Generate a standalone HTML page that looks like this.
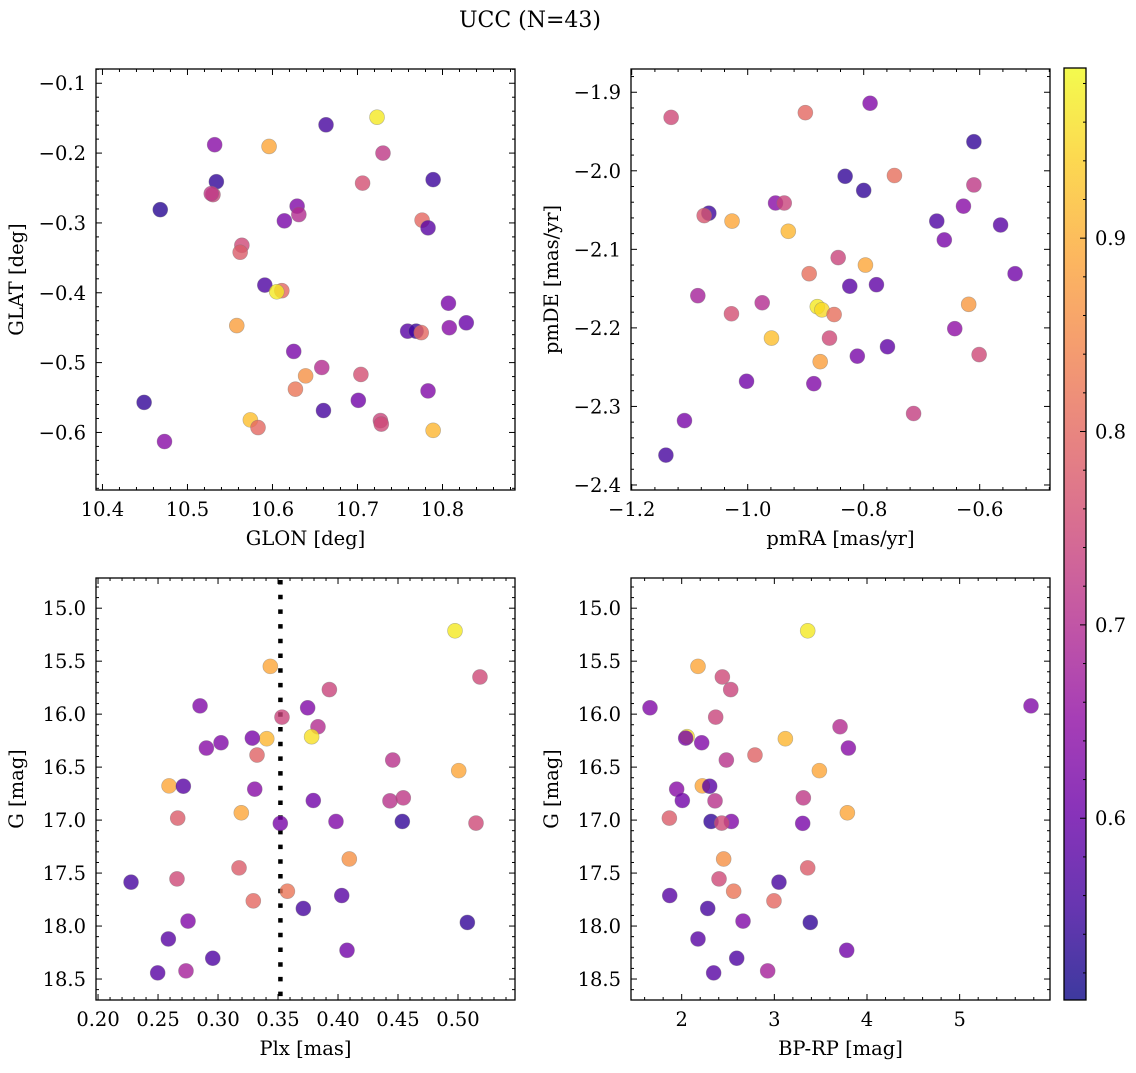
<!DOCTYPE html>
<html><head><meta charset="utf-8">
<style>
body{margin:0;background:#fff;}
svg text{font-family:"DejaVu Serif","Liberation Serif",serif;fill:#000;}
</style></head>
<body>
<svg id="fig" width="1136" height="1068" viewBox="0 0 1136 1068" xmlns="http://www.w3.org/2000/svg">
<text x="530" y="27" font-size="22" text-anchor="middle">UCC (N=43)</text>
</svg>
<script>
// ---- top panels data ----
const glon = [10.723,10.663,10.532,10.596,10.730,10.534,10.789,10.706,10.530,10.468,10.629,10.631,10.614,10.776,10.783,10.564,10.562,10.591,10.611,10.605,10.807,10.828,10.558,10.759,10.769,10.775,10.808,10.625,10.658,10.639,10.704,10.627,10.783,10.449,10.701,10.660,10.574,10.727,10.728,10.583,10.789,10.473,10.528];
const glat = [-0.1486,-0.1595,-0.188,-0.1905,-0.2,-0.241,-0.238,-0.243,-0.2595,-0.281,-0.276,-0.288,-0.297,-0.296,-0.307,-0.332,-0.342,-0.389,-0.397,-0.3986,-0.415,-0.443,-0.447,-0.455,-0.455,-0.457,-0.450,-0.484,-0.507,-0.519,-0.517,-0.538,-0.5405,-0.557,-0.554,-0.5686,-0.582,-0.583,-0.588,-0.593,-0.597,-0.613,-0.258];
const cTL = [0.97,0.56,0.64,0.89,0.72,0.54,0.55,0.76,0.74,0.53,0.63,0.70,0.62,0.80,0.58,0.75,0.78,0.57,0.80,0.97,0.62,0.60,0.88,0.58,0.55,0.80,0.64,0.62,0.70,0.86,0.76,0.82,0.63,0.54,0.61,0.56,0.92,0.74,0.75,0.80,0.91,0.64,0.72];
const pmra = [-0.789,-1.132,-0.9006,-0.610,-0.832,-0.747,-0.800,-0.610,-0.952,-0.937,-1.067,-1.075,-1.027,-0.628,-0.674,-0.930,-0.564,-0.661,-0.844,-0.797,-0.894,-0.539,-0.824,-0.778,-1.086,-0.975,-0.880,-0.872,-1.028,-0.851,-0.619,-0.959,-0.859,-0.643,-0.759,-0.601,-0.811,-0.875,-1.002,-0.886,-0.714,-1.109,-1.141];
const pmde = [-1.914,-1.932,-1.926,-1.963,-2.007,-2.006,-2.025,-2.018,-2.041,-2.041,-2.054,-2.057,-2.064,-2.045,-2.064,-2.077,-2.069,-2.088,-2.1105,-2.120,-2.131,-2.131,-2.147,-2.145,-2.159,-2.168,-2.173,-2.177,-2.182,-2.183,-2.170,-2.213,-2.213,-2.201,-2.224,-2.234,-2.236,-2.243,-2.268,-2.271,-2.309,-2.318,-2.362];
const cTR = [0.63,0.75,0.80,0.54,0.54,0.81,0.54,0.72,0.64,0.74,0.55,0.77,0.89,0.64,0.57,0.91,0.58,0.62,0.74,0.89,0.81,0.61,0.58,0.59,0.68,0.70,0.97,0.95,0.76,0.81,0.87,0.92,0.75,0.65,0.59,0.75,0.62,0.88,0.61,0.63,0.73,0.62,0.56];
// ---- bottom panels data (shared G & colour) ----
const gmag = [15.213,15.549,15.649,15.768,15.922,15.940,16.028,16.119,16.213,16.232,16.226,16.270,16.320,16.386,16.433,16.533,16.677,16.680,16.708,16.815,16.818,16.790,16.931,16.981,17.013,17.013,17.031,17.028,17.367,17.451,17.555,17.586,17.671,17.712,17.762,17.834,17.953,17.966,18.122,18.229,18.304,18.442,18.423];
const plx = [0.4975,0.3436,0.5183,0.3928,0.285,0.3747,0.3533,0.3833,0.378,0.3406,0.3286,0.3025,0.2903,0.3325,0.4456,0.5006,0.2592,0.2711,0.3306,0.3794,0.4433,0.4544,0.3194,0.2664,0.3983,0.4536,0.3519,0.515,0.4094,0.3175,0.2658,0.2275,0.3578,0.4031,0.3294,0.3711,0.275,0.5078,0.2586,0.4075,0.2956,0.2497,0.2733];
const bprp = [3.360,2.176,2.439,2.529,5.770,1.658,2.367,3.709,2.058,3.119,2.043,2.216,3.799,2.791,2.482,3.486,2.223,2.302,1.946,2.007,2.360,3.313,3.788,1.867,2.536,2.317,3.306,2.432,2.453,3.360,2.403,3.050,2.561,1.871,2.996,2.281,2.662,3.388,2.176,3.781,2.594,2.345,2.928];
const cBot = [0.97,0.89,0.75,0.74,0.63,0.63,0.74,0.70,0.96,0.91,0.62,0.63,0.64,0.79,0.71,0.89,0.89,0.58,0.64,0.61,0.71,0.72,0.89,0.78,0.63,0.54,0.62,0.75,0.86,0.78,0.75,0.56,0.82,0.58,0.80,0.56,0.63,0.54,0.58,0.61,0.57,0.58,0.68];
const plxCut = 0.352;
const cbTicks = [0.6,0.7,0.8,0.9];
const cmin = 0.506, cmax = 0.988;

const NS = "http://www.w3.org/2000/svg";
const svg = document.getElementById('fig');
const FS = 19.5;
function mk(tag, attrs, parent){const e=document.createElementNS(NS,tag);for(const k in attrs)e.setAttribute(k,attrs[k]);(parent||svg).appendChild(e);return e;}
const stops=[[13,8,135],[65,4,157],[106,0,168],[143,13,164],[177,42,144],[204,71,120],[225,100,98],[242,132,75],[252,166,54],[252,206,37],[240,249,33]];
function plasma(t){t=Math.max(0,Math.min(1,t));const f=t*10,i=Math.min(9,Math.floor(f)),r=f-i;const a=stops[i],b=stops[i+1];return 'rgb('+a.map((v,k)=>Math.round(v+(b[k]-v)*r)).join(',')+')';}
function col(c){return plasma((c-cmin)/(cmax-cmin));}
const fmtMinus=s=>s.replace('-','\u2212');

function panel(p){
  const sx=v=>p.x0+(v-p.xmin)/(p.xmax-p.xmin)*(p.x1-p.x0);
  const sy=v=>p.y0+(p.ytop-v)/(p.ytop-p.ybot)*(p.y1-p.y0);
  const g=mk('g',{});
  
  
  let start=Math.ceil(p.xmin/p.xminor-1e-6);
  for(let k=start;k*p.xminor<=p.xmax+1e-9;k++){
    const v=k*p.xminor;const X=sx(v);
    const major=Math.abs(v/p.xmajor-Math.round(v/p.xmajor))<1e-6;
    const L=major?6:3;
    mk('line',{x1:X,x2:X,y1:p.y1,y2:p.y1-L,stroke:'#000','stroke-width':1},g);
    mk('line',{x1:X,x2:X,y1:p.y0,y2:p.y0+L,stroke:'#000','stroke-width':1},g);
    if(major){const t=mk('text',{x:X,y:p.y1+26,'font-size':FS,'text-anchor':'middle'},g);t.textContent=fmtMinus(v.toFixed(p.xdec));}
  }
  const lo=Math.min(p.ytop,p.ybot),hi=Math.max(p.ytop,p.ybot);
  start=Math.ceil(lo/p.yminor-1e-6);
  for(let k=start;k*p.yminor<=hi+1e-9;k++){
    const v=k*p.yminor;const Y=sy(v);
    const major=Math.abs(v/p.ymajor-Math.round(v/p.ymajor))<1e-6;
    const L=major?6:3;
    mk('line',{x1:p.x0,x2:p.x0+L,y1:Y,y2:Y,stroke:'#000','stroke-width':1},g);
    mk('line',{x1:p.x1,x2:p.x1-L,y1:Y,y2:Y,stroke:'#000','stroke-width':1},g);
    if(major){const t=mk('text',{x:p.x0-10,y:Y+7,'font-size':FS,'text-anchor':'end'},g);t.textContent=fmtMinus(v.toFixed(p.ydec));}
  }
  if(p.vline!==undefined){
    const l=mk('line',{x1:sx(p.vline),x2:sx(p.vline),y1:p.y0+2,y2:p.y1,stroke:'#000','stroke-width':4.5,'stroke-dasharray':'4.5 10.2'},g);
    
  }
  for(let i=0;i<p.xs.length;i++){
    const c=mk('circle',{cx:sx(p.xs[i]),cy:sy(p.ys[i]),r:7.5,fill:col(p.cs[i]),'fill-opacity':0.8,stroke:'#777','stroke-opacity':0.5,'stroke-width':0.6},g);
    
    
  }
  mk('rect',{x:p.x0,y:p.y0,width:p.x1-p.x0,height:p.y1-p.y0,fill:'none',stroke:'#000','stroke-width':1.3},g);
  const xl=mk('text',{x:(p.x0+p.x1)/2,y:p.y1+55,'font-size':FS,'text-anchor':'middle'},g);xl.textContent=p.xlabel;
  
  const yx=p.x0-73,yc=(p.y0+p.y1)/2;
  const yl=mk('text',{x:yx,y:yc,'font-size':FS,'text-anchor':'middle',transform:`rotate(-90 ${yx} ${yc})`},g);yl.textContent=p.ylabel;
  
}
panel({name:'glon-glat-panel',x0:96,x1:515,y0:69,y1:490,xmin:10.3924,xmax:10.8853,ytop:-0.0796,ybot:-0.6824,xmajor:0.1,xminor:0.02,ymajor:0.1,yminor:0.02,xdec:1,ydec:1,xs:glon,ys:glat,cs:cTL,xlabel:'GLON [deg]',ylabel:'GLAT [deg]'});
panel({name:'pm-panel',x0:631,x1:1050,y0:69,y1:490,xmin:-1.2012,xmax:-0.4788,ytop:-1.8704,ybot:-2.4064,xmajor:0.2,xminor:0.04,ymajor:0.1,yminor:0.02,xdec:1,ydec:1,xs:pmra,ys:pmde,cs:cTR,xlabel:'pmRA [mas/yr]',ylabel:'pmDE [mas/yr]'});
panel({name:'plx-g-panel',x0:96,x1:515,y0:578,y1:1000,xmin:0.1983,xmax:0.5475,ytop:14.715,ybot:18.698,xmajor:0.05,xminor:0.01,ymajor:0.5,yminor:0.1,xdec:2,ydec:1,xs:plx,ys:gmag,cs:cBot,vline:plxCut,xlabel:'Plx [mas]',ylabel:'G [mag]'});
panel({name:'cmd-panel',x0:631,x1:1050,y0:578,y1:1000,xmin:1.453,xmax:5.975,ytop:14.715,ybot:18.698,xmajor:1,xminor:0.2,ymajor:0.5,yminor:0.1,xdec:0,ydec:1,xs:bprp,ys:gmag,cs:cBot,xlabel:'BP-RP [mag]',ylabel:'G [mag]'});

// colorbar
const cb={x0:1064,x1:1086,y0:68,y1:1000};
const defs=mk('defs',{});
const lg=mk('linearGradient',{id:'cbg',x1:0,y1:1,x2:0,y2:0},defs);
for(let k=0;k<=20;k++)mk('stop',{offset:k/20,'stop-color':plasma(k/20),'stop-opacity':0.8},lg);
const cbr=mk('rect',{x:cb.x0,y:cb.y0,width:cb.x1-cb.x0,height:cb.y1-cb.y0,fill:'url(#cbg)',stroke:'#000','stroke-width':1.3});


const cy=v=>cb.y1-(v-cmin)/(cmax-cmin)*(cb.y1-cb.y0);
for(let k=Math.ceil(cmin/0.02);k*0.02<=cmax;k++){
  const v=k*0.02,Y=cy(v);const major=Math.abs(v*10-Math.round(v*10))<1e-6;
  mk('line',{x1:cb.x1,x2:cb.x1-(major?6:3),y1:Y,y2:Y,stroke:'#000','stroke-width':1});
}
cbTicks.forEach(v=>{const t=mk('text',{x:1095,y:cy(v)+7,'font-size':FS});t.textContent=v.toFixed(1);
  
  });
</script>
</body></html>
